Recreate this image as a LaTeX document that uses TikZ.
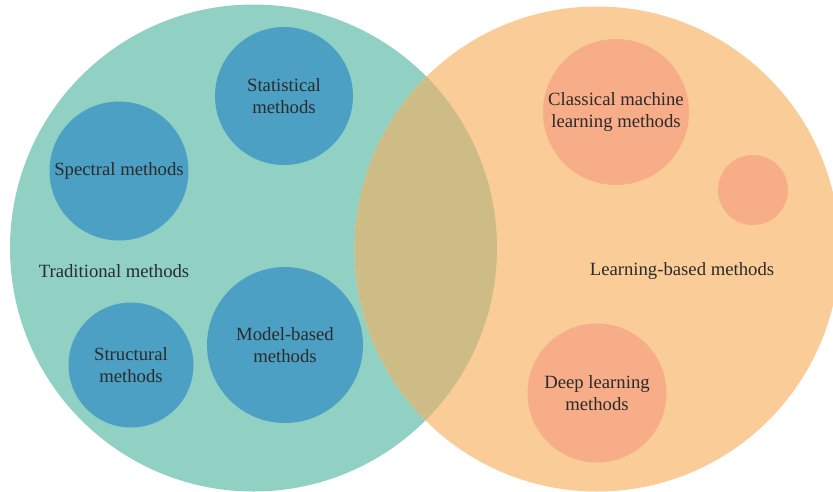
\documentclass[tikz,border=0pt]{standalone}
\usepackage{fontspec}
\setmainfont{Liberation Serif}
\definecolor{tealbg}{HTML}{91D1C4}
\definecolor{orangebg}{HTML}{FACC98}
\definecolor{overlapbg}{HTML}{CDBC85}
\definecolor{bluedot}{HTML}{4BA0C4}
\definecolor{salmondot}{HTML}{F7AD87}
\definecolor{labeltext}{HTML}{2B2B2B}
\tikzset{
	bluecirc/.style={circle, fill=bluedot, inner sep=0pt, align=center, text=labeltext, font=\fontsize{18.7}{22.5}\selectfont},
	salmoncirc/.style={circle, fill=salmondot, inner sep=0pt, align=center, text=labeltext, font=\fontsize{18.7}{22.5}\selectfont},
	biglabel/.style={text=labeltext, font=\fontsize{18.7}{22.5}\selectfont}
}
\begin{document}
\begin{tikzpicture}[x=1pt,y=-1pt]
	\useasboundingbox (0,0) rectangle (833,491);
	% the two big sets
	\fill[tealbg] (253.5,248) circle (243.5);
	\fill[orangebg] (597,249) circle (242.5);
	\begin{scope}
		\clip (253.5,248) circle (243.5);
		\fill[overlapbg] (597,249) circle (242.5);
	\end{scope}
%	traditional side
	\node[bluecirc, minimum size=138] (stat) at (284,96) {Statistical\\methods};
	\node[bluecirc, minimum size=139] (spec) at (119,171) {Spectral methods};
	\node[bluecirc, minimum size=125] (struct) at (131,365) {Structural\\methods};
	\node[bluecirc, minimum size=156] (model) at (285,345) {Model-based\\methods};
	\node[biglabel] (trad) at (114,271) {Traditional methods};
%	learning side
	\node[salmoncirc, minimum size=146] (classic) at (616,112) {Classical machine\\learning methods};
	\node[salmoncirc, minimum size=70] (small) at (753,190) {};
	\node[salmoncirc, minimum size=139] (deep) at (597,393) {Deep learning\\methods};
	\node[biglabel] (learn) at (682,271) {Learning-based methods};
\end{tikzpicture}
\end{document}
